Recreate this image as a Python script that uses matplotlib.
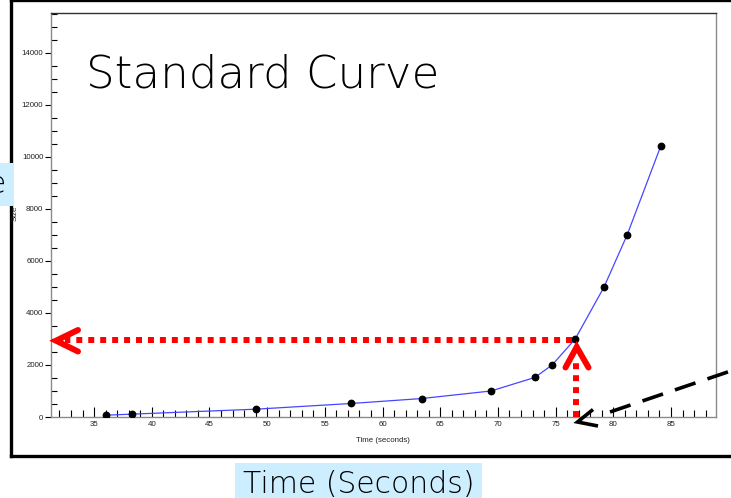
import matplotlib
matplotlib.use("Agg")
import matplotlib.pyplot as plt
from matplotlib.lines import Line2D
from matplotlib.ticker import MultipleLocator

# ---- data ----
time_s = [36.0, 38.3, 49.0, 57.3, 63.4, 69.4, 73.2, 74.7, 76.7, 79.2, 81.2, 84.1]
size_bp = [70, 110, 300, 520, 710, 1000, 1520, 2000, 3000, 5000, 7000, 10400]
x_ticks = [35, 40, 45, 50, 55, 60, 65, 70, 75, 80, 85]
y_ticks = [0, 2000, 4000, 6000, 8000, 10000, 12000, 14000]
title_text = "Standard Curve"
x_small_label = "Time (seconds)"
y_small_label = "Size"
x_big_label = "Time (Seconds)"
y_big_label = "Size"
read_value = 2950           # level of the horizontal read-off arrow
read_time = 76.75           # time of the vertical arrow

W, H = 731, 498
fig = plt.figure(figsize=(W / 100, H / 100), dpi=100)
fig.patch.set_facecolor("white")

def fx(px):
    return px / W

def fy(py):
    return 1 - py / H

ax = fig.add_axes([fx(51), fy(417), fx(716) - fx(51), fy(13) - fy(417)])
ax.set_xlim(31.27, 88.9)
ax.set_ylim(0, 15530)

ax.plot(time_s, size_bp, color="#4646ff", lw=0.9, zorder=3)
ax.plot(time_s, size_bp, linestyle="none", marker="o", ms=4.6,
        color="black", zorder=4)

for s in ax.spines.values():
    s.set_color("#8a8a8a")
    s.set_linewidth(1.0)
ax.spines["top"].set_color("#303030")

small_family = ["Liberation Sans", "DejaVu Sans"]
ax.set_xticks(x_ticks)
ax.set_yticks(y_ticks)
ax.xaxis.set_minor_locator(MultipleLocator(1))
ax.yaxis.set_minor_locator(MultipleLocator(500))
ax.tick_params(axis="x", which="major", direction="in", length=7, width=0.8,
               color="black", pad=3)
ax.tick_params(axis="x", which="minor", direction="in", length=5, width=0.8,
               color="black")
ax.tick_params(axis="y", which="major", direction="out", length=4, width=0.8,
               color="black", pad=1.5)
ax.tick_params(axis="y", which="minor", direction="in", length=4, width=0.8,
               color="black")
for lab in ax.get_xticklabels() + ax.get_yticklabels():
    lab.set_fontfamily(small_family)
    lab.set_fontsize(5.7)
    lab.set_color("#222222")

big_family = ["DejaVu Sans"]

# big labels with light-blue highlight
hl = dict(boxstyle="square,pad=0.25", fc="#cdeeff", ec="none")
fig.text(fx(358.5), fy(493), x_big_label, ha="center", va="baseline",
         family=big_family, fontweight="light", fontsize=21.5,
         color="black", bbox=hl)
fig.text(fx(6.5), fy(184.5), y_big_label, ha="right", va="center",
         family=big_family, fontweight="light", fontsize=21.5,
         color="black", bbox=hl)

fig.text(fx(383), fy(440), x_small_label, ha="center", va="center",
         family=small_family, fontsize=5.7, color="#222222")
fig.text(fx(15), fy(213), y_small_label, ha="center", va="center", rotation=90,
         family=small_family, fontsize=5.7, color="#222222")

# big title inside the plot
fig.text(fx(86), fy(87), title_text, ha="left", va="baseline",
         family=big_family, fontweight="light", fontsize=32.5,
         color="black")

# red dotted read-off arrows
red = "#ff0000"
ax.plot([read_time - 0.3, 32.5], [read_value, read_value], color=red, lw=4.3,
        linestyle=(0, (1, 1)), dash_capstyle="butt", zorder=5)
ax.plot([read_time, read_time], [0, read_value - 700], color=red, lw=4.3,
        linestyle=(0, (1, 1)), dash_capstyle="butt", zorder=5)

def px2data(px, py):
    disp = fig.transFigure.transform((fx(px), fy(py)))
    return ax.transData.inverted().transform(disp)

tip_h = px2data(56, 340.7)
arm_h1 = px2data(78, 330)
arm_h2 = px2data(78, 351.5)
ax.plot([arm_h1[0], tip_h[0], arm_h2[0]], [arm_h1[1], tip_h[1], arm_h2[1]],
        color=red, lw=4.3, solid_capstyle="round", solid_joinstyle="miter",
        zorder=6, clip_on=False)
tip_v = px2data(576.7, 347)
arm_v1 = px2data(565.5, 367.5)
arm_v2 = px2data(588.5, 367.5)
ax.plot([arm_v1[0], tip_v[0], arm_v2[0]], [arm_v1[1], tip_v[1], arm_v2[1]],
        color=red, lw=4.3, solid_capstyle="round", solid_joinstyle="miter",
        zorder=6)

# black dashed pointer coming in from the right
fig.add_artist(Line2D([fx(610), fx(735)], [fy(412), fy(369.5)], color="black",
                      lw=2.6, linestyle=(0, (6, 3.5)), dash_capstyle="butt"))
fig.add_artist(Line2D([fx(593), fx(577.5), fx(598)], [fy(409.5), fy(422), fy(426)],
                      color="black", lw=2.6, solid_capstyle="butt",
                      solid_joinstyle="miter"))

# outer frame (right side is off the picture)
frame = dict(color="black", lw=2.4, solid_capstyle="projecting")
fig.add_artist(Line2D([fx(10.5), fx(10.5)], [fy(0), fy(455.5)], **frame))
fig.add_artist(Line2D([fx(10.5), fx(740)], [fy(455.5), fy(455.5)], **frame))
fig.add_artist(Line2D([fx(10.5), fx(740)], [fy(-0.3), fy(-0.3)], **frame))

fig.savefig("out.png", dpi=100, facecolor="white")
